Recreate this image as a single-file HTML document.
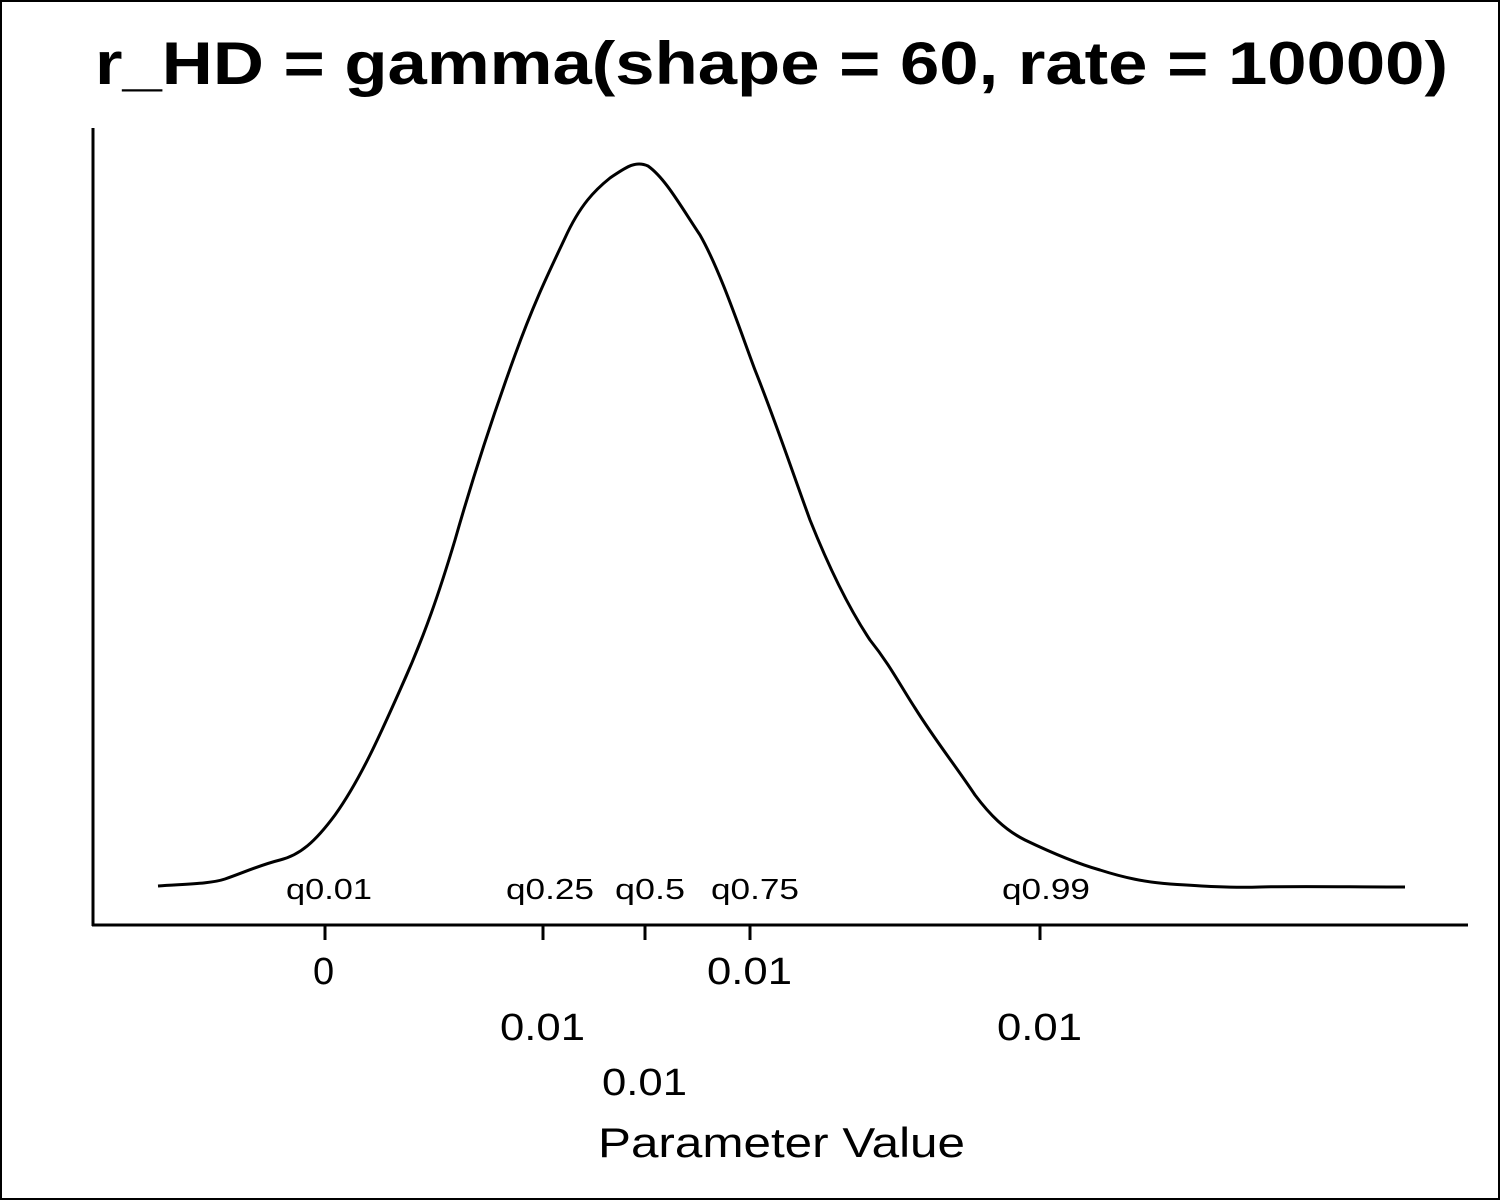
<!DOCTYPE html>
<html><head><meta charset="utf-8"><style>
html,body{margin:0;padding:0;background:#fff;}
svg{display:block;}
text{font-family:"Liberation Sans",Arial,sans-serif;fill:#000;}
</style></head><body>
<svg width="1500" height="1200" viewBox="0 0 1500 1200" xmlns="http://www.w3.org/2000/svg">
<rect x="1" y="1" width="1498" height="1198" fill="#fff" stroke="#000" stroke-width="2"/>
<text x="95" y="84" font-size="60" font-weight="bold" textLength="1353" lengthAdjust="spacingAndGlyphs">r_HD = gamma(shape = 60, rate = 10000)</text>
<line x1="93" y1="128" x2="93" y2="926" stroke="#000" stroke-width="3"/>
<line x1="92" y1="925" x2="1468" y2="925" stroke="#000" stroke-width="3"/>
<g stroke="#000" stroke-width="3">
<line x1="325" y1="925" x2="325" y2="940"/>
<line x1="543" y1="925" x2="543" y2="940"/>
<line x1="645" y1="925" x2="645" y2="940"/>
<line x1="750" y1="925" x2="750" y2="940"/>
<line x1="1040" y1="925" x2="1040" y2="940"/>
</g>
<g font-size="38">
<text x="313" y="984">0</text>
<text x="707" y="984" textLength="85" lengthAdjust="spacingAndGlyphs">0.01</text>
<text x="500" y="1040" textLength="85" lengthAdjust="spacingAndGlyphs">0.01</text>
<text x="997" y="1040" textLength="85" lengthAdjust="spacingAndGlyphs">0.01</text>
<text x="602" y="1095" textLength="85" lengthAdjust="spacingAndGlyphs">0.01</text>
<text x="598" y="1157" font-size="42" textLength="367" lengthAdjust="spacingAndGlyphs">Parameter Value</text>
</g>
<g font-size="29">
<text x="286" y="899" textLength="86" lengthAdjust="spacingAndGlyphs">q0.01</text>
<text x="506" y="899" textLength="88" lengthAdjust="spacingAndGlyphs">q0.25</text>
<text x="615" y="899" textLength="70" lengthAdjust="spacingAndGlyphs">q0.5</text>
<text x="711" y="899" textLength="88" lengthAdjust="spacingAndGlyphs">q0.75</text>
<text x="1002" y="899" textLength="88" lengthAdjust="spacingAndGlyphs">q0.99</text>
</g>
<path fill="none" stroke="#000" stroke-width="3" d="M158,886 C185,884 210,884 225,879 C245,872 260,865 280,860 C300,855 315,842 335,815 C360,780 380,735 400,690 C425,635 440,590 455,540 C475,470 495,410 515,355 C535,300 550,270 565,238 C580,205 595,190 610,178 C625,168 635,160 648,166 C665,178 680,205 700,235 C720,270 740,330 755,370 C775,420 790,465 810,520 C830,570 850,610 870,640 C890,665 900,685 915,708 C935,740 955,765 975,795 C990,815 1005,830 1025,840 C1050,852 1075,863 1100,870 C1125,878 1145,882 1170,884 C1200,886 1230,888 1260,887 C1300,886 1350,887 1405,887"/>
</svg>
</body></html>
